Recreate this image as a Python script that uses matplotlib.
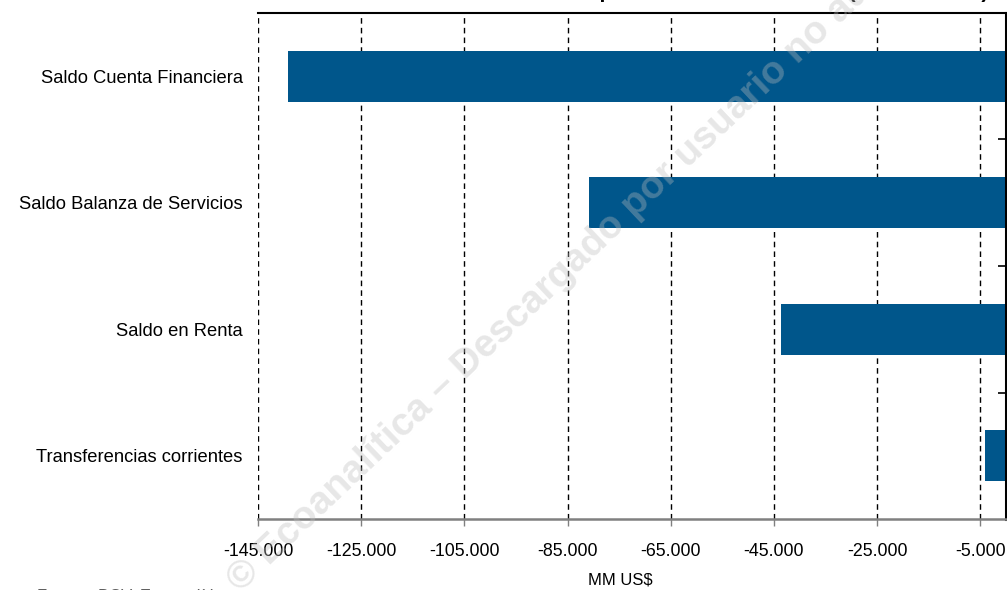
import matplotlib.pyplot as plt
from matplotlib.ticker import FuncFormatter, FixedLocator

# --- datos (MM US$) ---
categorias = ["Saldo Cuenta Financiera", "Saldo Balanza de Servicios",
              "Saldo en Renta", "Transferencias corrientes"]
valores = [-139200, -80850, -43650, -4000]
ticks_x = [-145000, -125000, -105000, -85000, -65000, -45000, -25000, -5000]

plt.rcParams['font.family'] = ['Liberation Sans', 'DejaVu Sans']

fig = plt.figure(figsize=(10.07, 5.9), dpi=100)
ax = fig.add_axes([0.2562, 0.1203, 0.7428, 0.8577])

pos = list(range(len(categorias)))
ax.barh(pos, valores, height=0.4, color="#00568b", zorder=2)

ax.set_xlim(-145000, 0)
ax.set_ylim(3.5, -0.5)

# eje x
ax.set_xticks(ticks_x)
ax.xaxis.set_major_formatter(FuncFormatter(lambda v, p: f"{int(v):,}".replace(",", ".")))
ax.tick_params(axis='x', labelsize=12.8, length=5, width=1, color="#808080", pad=12)
ax.grid(axis='x', color='black', linestyle=(0, (4, 3)), linewidth=1, zorder=1)

# eje y: etiquetas a la izquierda, marcas entre categorias a la derecha
ax.set_yticks(pos)
ax.set_yticklabels(categorias)
ax.tick_params(axis='y', which='major', length=0, labelsize=13.2, pad=11)
ax.yaxis.set_minor_locator(FixedLocator([0.5, 1.5, 2.5]))
ax.tick_params(axis='y', which='minor', left=False, right=True,
               direction='in', length=6, width=1.2, color='black')

ax.spines['left'].set_visible(False)
ax.spines['bottom'].set_color("#808080")
ax.spines['bottom'].set_linewidth(1.8)
ax.spines['top'].set_linewidth(1.5)
ax.spines['right'].set_linewidth(2.2)

fig.text(620 / 1007, 0.004, "MM US$", ha='center', va='bottom', fontsize=12)

# titulo (recortado arriba en la imagen original)
fig.text(988 / 1007, 1.004, "Componentes seleccionados (ene-dic 2013)",
         ha='right', va='baseline', fontsize=15, fontweight='bold')

# fuente (recortada abajo)
fig.text(37 / 1007, 0.002, "Fuente: BCV, Ecoanalítica", ha='left', va='top',
         fontsize=12, color="#606060")

# marca de agua
fig.text(240 / 1007, -0.005, "© Ecoanalítica – Descargado por usuario no autorizado",
         ha='left', va='baseline', rotation=43.5, rotation_mode='anchor',
         fontsize=28, fontweight='bold', color="#bcbcbc", alpha=0.36, zorder=10)

fig.savefig("out.png", dpi=100)
